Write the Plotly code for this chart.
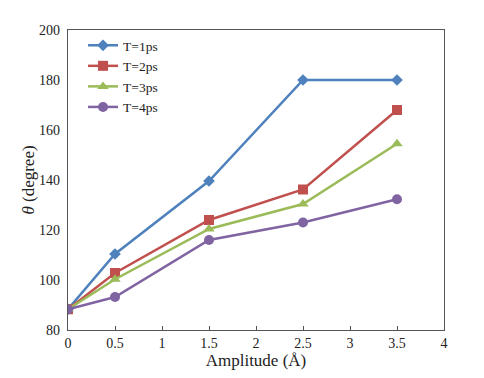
import plotly.graph_objects as go

amplitude = [0, 0.5, 1.5, 2.5, 3.5]
t1 = [88.3, 110.4, 139.6, 180, 180]
t2 = [88.3, 102.8, 124, 136.2, 168]
t3 = [88.3, 100.3, 120.4, 130.4, 154.5]
t4 = [88.3, 93.2, 116, 123, 132.3]
names = ["T=1ps", "T=2ps", "T=3ps", "T=4ps"]
colors = ["#4F81BD", "#C0504D", "#9BBB59", "#8064A2"]
symbols = ["diamond", "square", "triangle-up", "circle"]
sizes = [9, 10, 10, 10]

fig = go.Figure()
for ys, n, c, s, sz in zip([t1, t2, t3, t4], names, colors, symbols, sizes):
    fig.add_trace(go.Scatter(x=amplitude, y=ys, name=n, mode="lines+markers",
                             line=dict(color=c, width=2.5),
                             marker=dict(symbol=s, size=sz, color=c)))

font = "Times New Roman, Liberation Serif, DejaVu Serif, serif"
fig.update_layout(
    width=484, height=378,
    margin=dict(l=68, r=40, t=30, b=48, autoexpand=False),
    paper_bgcolor="white", plot_bgcolor="white",
    font=dict(family=font, size=14, color="#222"),
    showlegend=True,
    legend=dict(x=0.04, y=1.0, xanchor="left", yanchor="top",
                bgcolor="rgba(0,0,0,0)", font=dict(size=13.5, family=font),
                tracegroupgap=0, itemwidth=30),
    xaxis=dict(range=[0, 4], dtick=0.5, showgrid=False, zeroline=False,
               showline=True, linecolor="#555", linewidth=1.2, mirror=True,
               ticks="inside", ticklen=4, tickcolor="#555", automargin=False,
               tickfont=dict(family=font, size=14),
               title=dict(text="Amplitude (Å)", font=dict(size=17, family=font), standoff=2)),
    yaxis=dict(range=[80, 200], dtick=20, showgrid=False, zeroline=False,
               showline=True, linecolor="#555", linewidth=1.2, mirror=True,
               ticks="", ticklabelstandoff=4, automargin=False,
               tickfont=dict(family=font, size=14),
               title=dict(text="<i>θ</i> (degree)", font=dict(size=17, family=font), standoff=0)),
)
fig.write_html("out.html", config={"displayModeBar": False},
               post_script="document.body.style.margin='0';document.body.style.padding='0';")
